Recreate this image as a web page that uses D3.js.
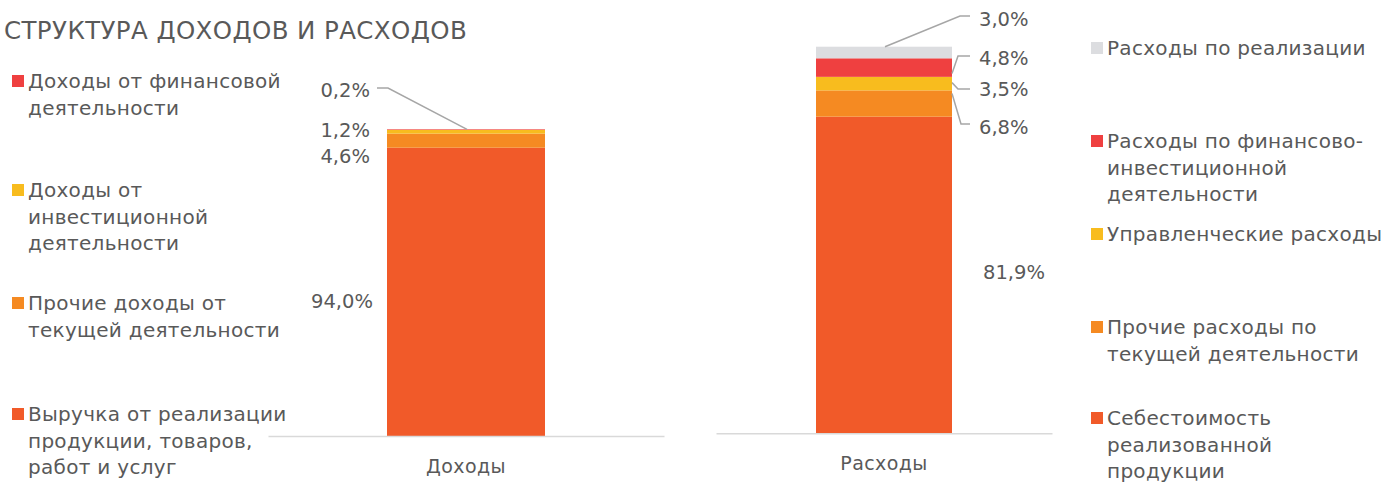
<!DOCTYPE html>
<html>
<head>
  <meta charset="utf-8">
  <title>Структура доходов и расходов</title>
  <script src="https://d3js.org/d3.v7.min.js"></script>
  <style>
    body { margin: 0; background: #fff; }
    text { font-family: "DejaVu Sans", sans-serif; fill: #595959; }
  </style>
</head>
<body>
<svg id="chart"></svg>
<script>
  var width = 1391;
  var height = 482;

  // data, bottom to top of each stack
  const incomeCats = [
    "Выручка от реализации продукции, товаров, работ и услуг",
    "Прочие доходы от текущей деятельности",
    "Доходы от инвестиционной деятельности",
    "Доходы от финансовой деятельности"
  ];
  const incomeValues = [94.0, 4.6, 1.2, 0.2];
  const incomeLegendLines = [
    ["Выручка от реализации", "продукции, товаров,", "работ и услуг"],
    ["Прочие доходы от", "текущей деятельности"],
    ["Доходы от", "инвестиционной", "деятельности"],
    ["Доходы от финансовой", "деятельности"]
  ];

  const expenseCats = [
    "Себестоимость реализованной продукции",
    "Прочие расходы по текущей деятельности",
    "Управленческие расходы",
    "Расходы по финансово-инвестиционной деятельности",
    "Расходы по реализации"
  ];
  const expenseValues = [81.9, 6.8, 3.5, 4.8, 3.0];
  const expenseLegendLines = [
    ["Себестоимость", "реализованной", "продукции"],
    ["Прочие расходы по", "текущей деятельности"],
    ["Управленческие расходы"],
    ["Расходы по финансово-", "инвестиционной", "деятельности"],
    ["Расходы по реализации"]
  ];

  const groupLabels = ["Доходы", "Расходы"];
  const colors = ["#F15A29", "#F58A22", "#F8BC1E", "#EF4040", "#DCDDE0"];
  const incomeColors = ["#F15A29", "#F58A22", "#F8BC1E", "#EF4040"];

  const fmt = v => d3.format(".1f")(v).replace(".", ",") + "%";

  var svg = d3.select("#chart")
    .attr("width", width)
    .attr("height", height);

  svg.append("text")
    .attr("x", 4)
    .attr("y", 39)
    .style("font-size", "24.5px")
    .style("letter-spacing", "0.4px")
    .text("СТРУКТУРА ДОХОДОВ И РАСХОДОВ");

  // two separate little charts, each with its own scale
  var panels = [
    { cats: incomeCats, values: incomeValues, colors: incomeColors, label: groupLabels[0],
      x0: 268, x1: 664, base: 436, top: 129.3, barW: 158, labelY: 473 },
    { cats: expenseCats, values: expenseValues, colors: colors, label: groupLabels[1],
      x0: 716, x1: 1052, base: 433.3, top: 46.7, barW: 136, labelY: 470 }
  ];

  panels.forEach(function(p) {
    var R = p.x1 - p.x0;
    p.x = d3.scaleBand().domain([p.label]).range([p.x0, p.x1])
      .padding((R - p.barW) / (R + p.barW));
    p.y = d3.scaleLinear().domain([0, 100]).range([p.base, p.top]);

    var stack = [];
    var acc = 0;
    p.values.forEach(function(v, i) {
      stack.push({ cat: p.cats[i], value: v, y0: acc, y1: acc + v, color: p.colors[i] });
      acc += v;
    });
    p.stack = stack;

    var g = svg.append("g");

    g.selectAll("rect")
      .data(stack)
      .enter()
      .append("rect")
      .attr("x", p.x(p.label))
      .attr("width", p.x.bandwidth())
      .attr("y", d => p.y(d.y1))
      .attr("height", d => p.y(d.y0) - p.y(d.y1))
      .attr("fill", d => d.color);

    var axis = d3.axisBottom(p.x).tickSize(0).tickPadding(0);
    var ax = g.append("g")
      .attr("transform", "translate(0," + p.base + ")")
      .call(axis);
    ax.select(".domain").attr("stroke", "#D9D9D9").attr("stroke-width", 1.5);
    ax.selectAll(".tick text")
      .attr("y", p.labelY - p.base)
      .attr("dy", 0)
      .attr("fill", "#595959")
      .style("font-size", "19px")
      .style("letter-spacing", "0.4px")
      .style("font-family", "DejaVu Sans, sans-serif");
  });

  // ---- data labels ----
  var inc = panels[0], exp = panels[1];
  var lblSize = "19.5px";
  var leader = "#A6A6A6";

  function label(x, y, txt, anchor) {
    svg.append("text")
      .attr("x", x)
      .attr("y", y)
      .attr("dy", "0.35em")
      .attr("text-anchor", anchor)
      .style("font-size", lblSize)
      .text(txt);
  }

  function line(pts) {
    svg.append("path")
      .attr("d", d3.line()(pts))
      .attr("fill", "none")
      .attr("stroke", leader)
      .attr("stroke-width", 1.5);
  }

  // income: labels to the left of the bar
  var incX = inc.x(inc.label);
  var incLblY = [301, 156, 130, 90];
  inc.stack.forEach(function(d, i) {
    label(i == 0 ? 373 : 370, incLblY[i], fmt(d.value), "end");
  });
  var s = inc.stack[3];
  line([[377, 88], [388, 88], [incX + 80, inc.y(s.y1)]]);

  // expenses: labels to the right of the bar
  var expR = exp.x(exp.label) + exp.x.bandwidth();
  var expLblY = [272, 127, 89, 58, 19];
  exp.stack.forEach(function(d, i) {
    label(i == 0 ? 983 : 979, expLblY[i], fmt(d.value), "start");
  });
  var e = exp.stack;
  line([[exp.x(exp.label) + 69, exp.y(e[4].y1)], [960, 16], [970, 16]]);
  line([[expR, exp.y((e[3].y0 + e[3].y1) / 2) + 6], [958, 56], [970, 56]]);
  line([[expR, exp.y((e[2].y0 + e[2].y1) / 2) - 1], [958, 89], [970, 89]]);
  line([[expR, exp.y((e[1].y0 + e[1].y1) / 2) - 10], [961, 124], [970, 124]]);

  // ---- legends ----
  var legSize = "20px";
  var lineH = 26.5;

  function legend(x, ys, lines, cols) {
    lines.forEach(function(ls, i) {
      svg.append("rect")
        .attr("x", x)
        .attr("y", ys[i] - 6)
        .attr("width", 12)
        .attr("height", 12)
        .attr("fill", cols[i]);
      var t = svg.append("text")
        .style("font-size", legSize)
        .style("letter-spacing", "0.3px");
      ls.forEach(function(l, j) {
        t.append("tspan")
          .attr("x", x + 16)
          .attr("y", ys[i] + j * lineH)
          .attr("dy", "0.35em")
          .text(l);
      });
    });
  }

  legend(12, [414, 303, 190, 81], incomeLegendLines, incomeColors);
  legend(1091, [418, 327, 234, 141, 48], expenseLegendLines, colors);
</script>
</body>
</html>
